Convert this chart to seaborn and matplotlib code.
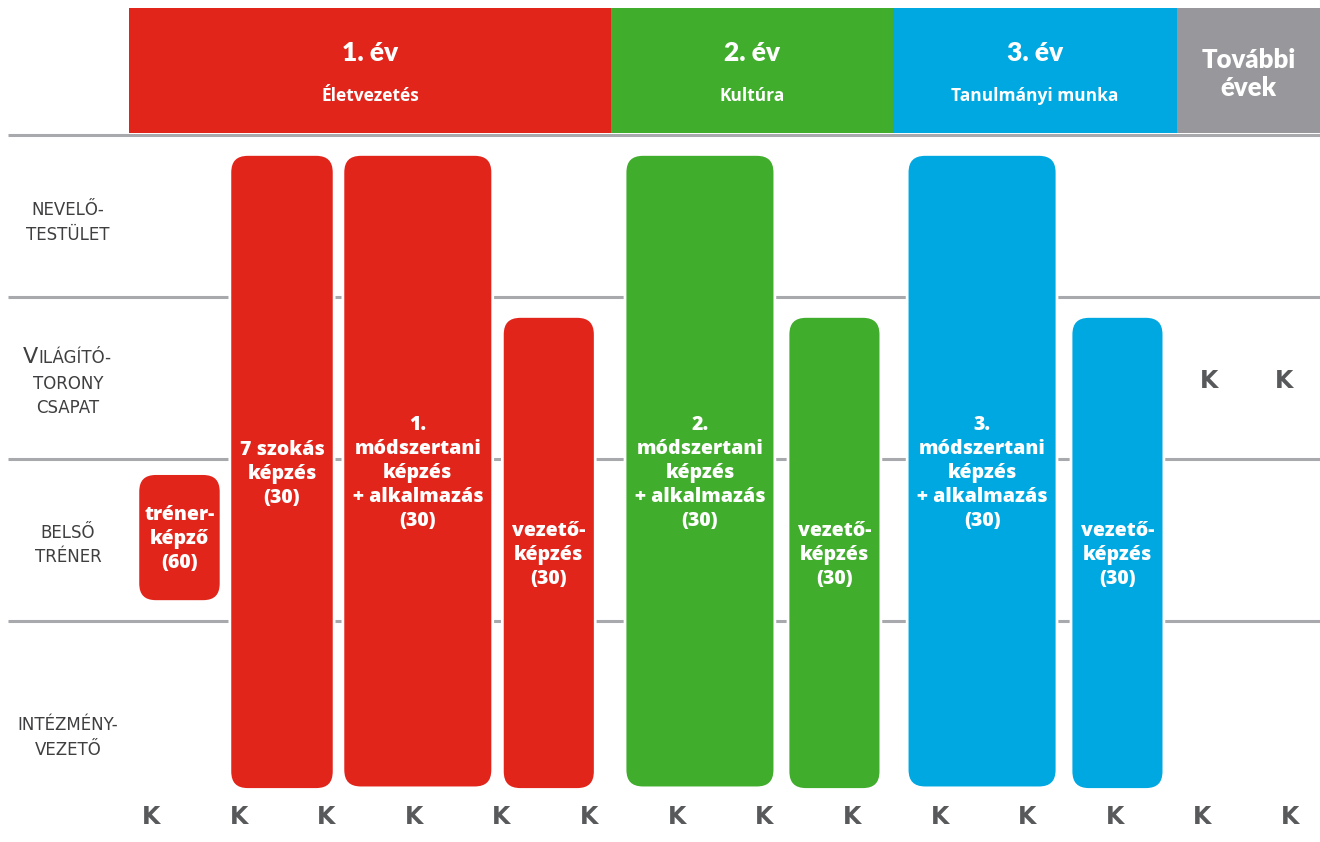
import matplotlib
matplotlib.use("Agg")
import matplotlib.pyplot as plt
from matplotlib.patches import FancyBboxPatch, Rectangle
import seaborn as sns

# ---------------- data ----------------
# x unit = one "K" (consultation) step, y unit = one role row
header_years = ["1. év", "2. év", "3. év", "További\névek"]
header_subtitles = ["Életvezetés", "Kultúra", "Tanulmányi munka", ""]
header_start = [-0.25, 5.25, 8.47, 11.71]
header_end = [5.25, 8.47, 11.71, 13.34]
header_phase = ["y1", "y2", "y3", "later"]

row_labels = ["NEVELŐ-\nTESTÜLET", "VILÁGÍTÓ-\nTORONY\nCSAPAT", "BELSŐ\nTRÉNER", "INTÉZMÉNY-\nVEZETŐ"]
row_label_y = [0.54, 1.52, 2.53, 3.72]
row_bounds = [0, 1, 2, 3]

bar_labels = [
    "tréner-\nképző\n(60)",
    "7 szokás\nképzés\n(30)",
    "1.\nmódszertani\nképzés\n+ alkalmazás\n(30)",
    "vezető-\nképzés\n(30)",
    "2.\nmódszertani\nképzés\n+ alkalmazás\n(30)",
    "vezető-\nképzés\n(30)",
    "3.\nmódszertani\nképzés\n+ alkalmazás\n(30)",
    "vezető-\nképzés\n(30)",
]
bar_start = [-0.15, 0.90, 2.19, 4.01, 5.41, 7.27, 8.63, 10.50]
bar_end = [0.80, 2.09, 3.90, 5.07, 7.12, 8.33, 10.34, 11.56]
bar_top = [2.09, 0.12, 0.12, 1.12, 0.12, 1.12, 0.12, 1.12]
bar_bottom = [2.88, 4.04, 4.03, 4.04, 4.03, 4.04, 4.03, 4.04]
bar_phase = ["y1", "y1", "y1", "y1", "y2", "y2", "y3", "y3"]

k_x = list(range(14)) + [12.08, 12.93]
k_y = [4.21] * 14 + [1.52, 1.52]

palette = {"y1": "#e1251b", "y2": "#41ad2c", "y3": "#00a8e1", "later": "#98979b"}

# ---------------- style ----------------
sns.set_theme(style="white")
plt.rcParams["font.family"] = ["Open Sans", "DejaVu Sans"]

W, H = 1320, 842
fig = plt.figure(figsize=(W / 100, H / 100), dpi=100)
ax = fig.add_axes([0, 0, 1, 1])
px_x, px_y = 87.62, 162.0   # pixels per data unit
x0, y0 = 151.0, 135.0
ax.set_xlim(-x0 / px_x, (W - x0) / px_x)
ax.set_ylim((H - y0) / px_y, -y0 / px_y)
ax.set_axis_off()
sns.despine(ax=ax, left=True, bottom=True)

grid_col = "#a7a9ac"
text_col = "#3f3f41"
k_col = "#58595b"
label_family = ["DejaVu Sans"]

# gridlines
ax.hlines(row_bounds, -143 / px_x, (W - x0) / px_x, color=grid_col, lw=2.2, zorder=1)

# header blocks
for yr, sub, s, e, ph in zip(header_years, header_subtitles, header_start, header_end, header_phase):
    ax.add_patch(Rectangle((s, -0.784), e - s, 0.772, facecolor=palette[ph], edgecolor="none", zorder=2))
    cx = (s + e) / 2
    if sub:
        ax.text(cx, -0.506, yr, ha="center", va="center", color="white",
                fontsize=19, fontweight="heavy", family=["Lato", "DejaVu Sans"], zorder=3)
        ax.text(cx, -0.24, sub, ha="center", va="center", color="white",
                fontsize=12.5, fontweight="bold", zorder=3)
    else:
        ax.text(cx, -0.377, yr, ha="center", va="center", color="white",
                fontsize=18.5, fontweight="heavy", family=["Lato", "DejaVu Sans"],
                linespacing=1.2, zorder=3)

# rounded bars
rad = 0.205
for lab, s, e, t, b, ph in zip(bar_labels, bar_start, bar_end, bar_top, bar_bottom, bar_phase):
    box = FancyBboxPatch((s, t), e - s, b - t,
                         boxstyle=f"round,pad=0,rounding_size={rad}",
                         mutation_aspect=px_x / px_y,
                         facecolor=palette[ph], edgecolor="white", lw=2.0, zorder=4)
    ax.add_patch(box)
    ax.text((s + e) / 2, (t + b) / 2 + 0.01, lab, ha="center", va="center", color="white",
            fontsize=14, fontweight=800, linespacing=1.27, zorder=5)

# row labels
lab_x = (68 - x0) / px_x
lab_fs = 12
lab_ls = 1.45
for lab, yy in zip(row_labels, row_label_y):
    if lab.startswith("VILÁGÍTÓ"):
        lines = lab.split("\n")
        first = lines[0]
        split_x = (38 - x0) / px_x
        ax.text(split_x, 1.405, first[0], ha="right", va="baseline", color=text_col,
                fontsize=16, family=label_family, zorder=5)
        ax.text(split_x, 1.405, first[1:], ha="left", va="baseline", color=text_col,
                fontsize=lab_fs, family=label_family, zorder=5)
        ax.text(lab_x, yy + 0.09, "\n".join(lines[1:]), ha="center", va="center",
                color=text_col, fontsize=lab_fs, family=label_family,
                linespacing=lab_ls, zorder=5)
    else:
        ax.text(lab_x, yy, lab, ha="center", va="center", color=text_col,
                fontsize=lab_fs, family=label_family, linespacing=lab_ls, zorder=5)

# K markers
for kx, ky in zip(k_x, k_y):
    ax.text(kx, ky, "K", ha="center", va="center", color=k_col,
            fontsize=17, fontweight="bold", family=["DejaVu Sans"], zorder=5)

fig.savefig("out.png", dpi=100, facecolor="white")
